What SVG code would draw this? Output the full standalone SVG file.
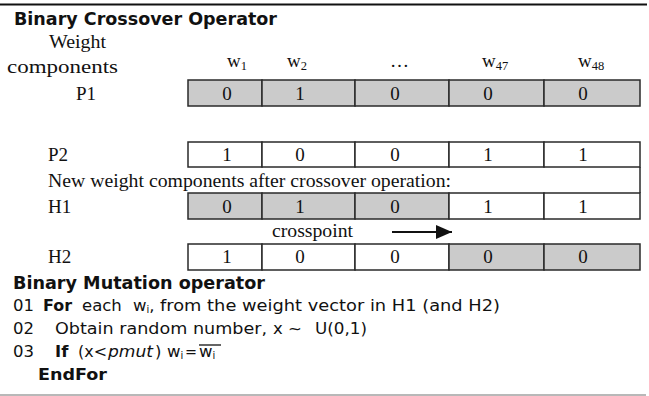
<svg xmlns="http://www.w3.org/2000/svg" width="649" height="396" viewBox="0 0 649 396">
  <defs>
    <style>
      .serif { font-family: "Liberation Serif", "Times New Roman", serif; font-size: 19px; fill: #111; }
      .sub { font-size: 12.5px; }
      .digit { text-anchor: middle; }
      .sans { font-family: "DejaVu Sans", Verdana, sans-serif; font-size: 16.5px; fill: #111; }
      .bold { font-weight: bold; }
      .head { font-family: "DejaVu Sans", Verdana, sans-serif; font-size: 17.5px; font-weight: bold; fill: #111; }
      .isub { font-size: 10px; }
      .cell { stroke: #2a2a2a; stroke-width: 1.5; }
      .on { fill: #cbcbcb; }
      .off { fill: #ffffff; }
    </style>
    <marker id="arrowhead" markerWidth="16" markerHeight="14" refX="16" refY="7" orient="auto" markerUnits="userSpaceOnUse">
      <path d="M0,0 L16,7 L0,14 Z" fill="#111"/>
    </marker>
  </defs>

  <rect width="649" height="396" fill="#ffffff"/>

  <!-- frame rules -->
  <line x1="0" y1="4.5" x2="647" y2="4.5" stroke="#111" stroke-width="2"/>
  <line x1="0" y1="395" x2="646" y2="395" stroke="#a0a0a0" stroke-width="1.5"/>

  <g id="title-crossover">
    <text class="head" x="14" y="25" textLength="263" lengthAdjust="spacingAndGlyphs">Binary Crossover Operator</text>
  </g>

  <g id="header">
    <text class="serif" x="49" y="48" textLength="57" lengthAdjust="spacingAndGlyphs">Weight</text>
    <text class="serif" x="7" y="73" textLength="111" lengthAdjust="spacingAndGlyphs">components</text>
    <text class="serif" x="227" y="67">w<tspan class="sub" dy="3">1</tspan></text>
    <text class="serif" x="287" y="67">w<tspan class="sub" dy="3">2</tspan></text>
    <text class="serif" x="390" y="67">…</text>
    <text class="serif" x="482" y="67">w<tspan class="sub" dy="3">47</tspan></text>
    <text class="serif" x="578" y="67">w<tspan class="sub" dy="3">48</tspan></text>
  </g>

  <g id="row-p1">
    <text class="serif" x="76" y="100">P1</text>
    <rect class="cell on" x="188" y="80" width="74" height="26"/>
    <rect class="cell on" x="262" y="80" width="93" height="26"/>
    <rect class="cell on" x="355" y="80" width="94" height="26"/>
    <rect class="cell on" x="449" y="80" width="95" height="26"/>
    <rect class="cell on" x="544" y="80" width="96" height="26"/>
    <text class="serif digit" x="227" y="100">0</text>
    <text class="serif digit" x="300" y="100">1</text>
    <text class="serif digit" x="395" y="100">0</text>
    <text class="serif digit" x="488" y="100">0</text>
    <text class="serif digit" x="583" y="100">0</text>
  </g>

  <g id="row-p2">
    <text class="serif" x="48" y="161">P2</text>
    <rect class="cell off" x="188" y="142" width="74" height="25"/>
    <rect class="cell off" x="262" y="142" width="93" height="25"/>
    <rect class="cell off" x="355" y="142" width="94" height="25"/>
    <rect class="cell off" x="449" y="142" width="95" height="25"/>
    <rect class="cell off" x="544" y="142" width="96" height="25"/>
    <text class="serif digit" x="227" y="161">1</text>
    <text class="serif digit" x="300" y="161">0</text>
    <text class="serif digit" x="395" y="161">0</text>
    <text class="serif digit" x="488" y="161">1</text>
    <text class="serif digit" x="583" y="161">1</text>
  </g>

  <g id="caption-new">
    <text class="serif" x="48" y="187" textLength="403" lengthAdjust="spacingAndGlyphs">New weight components after crossover operation:</text>
    <line class="cell" x1="640" y1="167" x2="640" y2="193"/>
  </g>

  <g id="row-h1">
    <text class="serif" x="48" y="213">H1</text>
    <rect class="cell on" x="188" y="193" width="74" height="26"/>
    <rect class="cell on" x="262" y="193" width="93" height="26"/>
    <rect class="cell on" x="355" y="193" width="94" height="26"/>
    <rect class="cell off" x="449" y="193" width="95" height="26"/>
    <rect class="cell off" x="544" y="193" width="96" height="26"/>
    <text class="serif digit" x="227" y="213">0</text>
    <text class="serif digit" x="300" y="213">1</text>
    <text class="serif digit" x="395" y="213">0</text>
    <text class="serif digit" x="488" y="213">1</text>
    <text class="serif digit" x="583" y="213">1</text>
  </g>

  <g id="crosspoint">
    <text class="serif" x="272" y="237" textLength="81" lengthAdjust="spacingAndGlyphs">crosspoint</text>
  </g>

  <g id="connectors">
    <line x1="392" y1="232" x2="452" y2="232" stroke="#111" stroke-width="2" marker-end="url(#arrowhead)"/>
  </g>

  <g id="row-h2">
    <text class="serif" x="48" y="263">H2</text>
    <rect class="cell off" x="188" y="244" width="74" height="26"/>
    <rect class="cell off" x="262" y="244" width="93" height="26"/>
    <rect class="cell off" x="355" y="244" width="94" height="26"/>
    <rect class="cell on" x="449" y="244" width="95" height="26"/>
    <rect class="cell on" x="544" y="244" width="96" height="26"/>
    <text class="serif digit" x="227" y="263">1</text>
    <text class="serif digit" x="300" y="263">0</text>
    <text class="serif digit" x="395" y="263">0</text>
    <text class="serif digit" x="488" y="263">0</text>
    <text class="serif digit" x="583" y="263">0</text>
  </g>

  <g id="title-mutation">
    <text class="head" x="13" y="289" textLength="252" lengthAdjust="spacingAndGlyphs">Binary Mutation operator</text>
  </g>

  <g id="mutation-steps">
    <!-- 01 -->
    <text class="sans" x="13" y="311">01</text>
    <text class="sans bold" x="43" y="311" textLength="29" lengthAdjust="spacingAndGlyphs">For</text>
    <text class="sans" x="82" y="311">each</text>
    <text class="sans" x="133" y="311">w<tspan class="isub" dy="2">i</tspan><tspan dy="-2">,</tspan></text>
    <text class="sans" x="160" y="311" textLength="340" lengthAdjust="spacingAndGlyphs">from the weight vector in H1 (and H2)</text>
    <!-- 02 -->
    <text class="sans" x="13" y="334">02</text>
    <text class="sans" x="55" y="334" textLength="212" lengthAdjust="spacingAndGlyphs">Obtain random number,</text>
    <text class="sans" x="273" y="334">x</text>
    <text class="sans" x="288" y="334">~</text>
    <text class="sans" x="315" y="334" textLength="52" lengthAdjust="spacingAndGlyphs">U(0,1)</text>
    <!-- 03 -->
    <text class="sans" x="13" y="357">03</text>
    <text class="sans bold" x="55" y="357">If</text>
    <text class="sans" x="78" y="357" textLength="29" lengthAdjust="spacingAndGlyphs">(x&lt;</text>
    <text class="sans" x="108" y="357" font-style="italic" textLength="45" lengthAdjust="spacingAndGlyphs">pmut</text>
    <text class="sans" x="155" y="357">)</text>
    <text class="sans" x="167" y="357">w<tspan class="isub" dy="2">i</tspan></text>
    <text class="sans" x="185" y="357" textLength="12" lengthAdjust="spacingAndGlyphs">=</text>
    <text class="sans" x="199" y="357">w<tspan class="isub" dy="2">i</tspan></text>
    <line x1="199" y1="345" x2="221" y2="345" stroke="#111" stroke-width="1.3"/>
    <!-- end of loop -->
    <text class="sans bold" x="38" y="380" textLength="69" lengthAdjust="spacingAndGlyphs">EndFor</text>
  </g>
</svg>
